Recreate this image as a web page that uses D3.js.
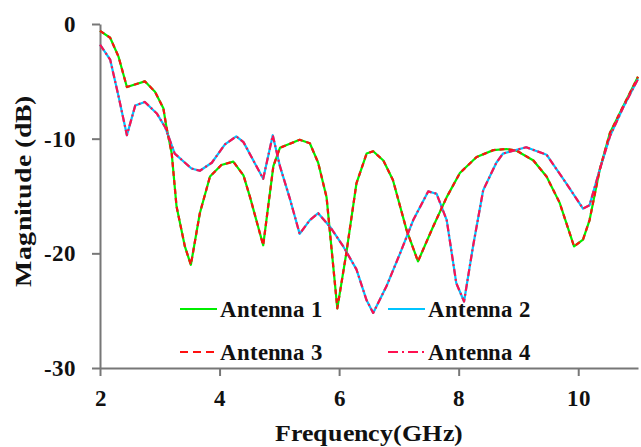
<!DOCTYPE html>
<html>
<head>
<meta charset="utf-8">
<script src="https://cdn.jsdelivr.net/npm/d3@7"></script>
<style>
  @font-face { font-family: "RefSerif"; font-weight: bold;
    src: local("Liberation Serif Bold"), local("LiberationSerif-Bold"), local("Times New Roman Bold"), local("DejaVu Serif Bold"), local("DejaVuSerif-Bold"); }
  html, body { margin: 0; padding: 0; background: #fff; }
  svg { display: block; }
  svg text { font-family: "RefSerif", "Liberation Serif", "Times New Roman", serif; font-weight: bold; fill: #111; }
</style>
</head>
<body>
<svg id="chart" width="641" height="447"></svg>
<script>
// ---- data ----
const freqA = [2.0, 2.17, 2.31, 2.45, 2.75, 2.92, 3.06, 3.11, 3.2, 3.28, 3.42, 3.52, 3.67, 3.84, 4.03, 4.23, 4.4, 4.51, 4.73, 4.9, 5.01, 5.34, 5.51, 5.65, 5.79, 5.97, 6.12, 6.29, 6.46, 6.57, 6.74, 6.9, 7.13, 7.32, 7.57, 7.8, 8.02, 8.3, 8.58, 8.8, 8.97, 9.25, 9.47, 9.69, 9.93, 10.08, 10.19, 10.36, 10.53, 10.75, 11.0];
const antenna1 = [-0.6, -1.2, -2.85, -5.5, -5.0, -5.9, -7.35, -8.95, -11.3, -15.9, -19.4, -21.0, -16.5, -13.3, -12.3, -12.0, -13.2, -15.1, -19.3, -12.4, -10.8, -10.1, -10.4, -12.1, -15.1, -24.8, -20.0, -13.9, -11.3, -11.1, -11.9, -13.6, -18.0, -20.7, -17.7, -15.1, -13.0, -11.6, -11.0, -10.9, -11.05, -11.9, -13.3, -15.6, -19.4, -18.8, -17.1, -12.7, -9.5, -7.2, -4.6];
const antenna3 = [-0.6, -1.2, -2.85, -5.5, -5.0, -5.9, -7.35, -8.95, -11.3, -15.9, -19.4, -21.0, -16.5, -13.3, -12.3, -12.0, -13.2, -15.1, -19.3, -12.4, -10.8, -10.1, -10.4, -12.1, -15.1, -24.8, -20.0, -13.9, -11.3, -11.1, -11.9, -13.6, -18.0, -20.7, -17.7, -15.1, -13.0, -11.6, -11.0, -10.9, -11.05, -11.9, -13.3, -15.6, -19.4, -18.8, -17.1, -12.7, -9.5, -7.2, -4.6];

const freqB = [2.0, 2.17, 2.31, 2.45, 2.59, 2.75, 2.95, 3.09, 3.25, 3.53, 3.67, 3.87, 4.09, 4.28, 4.4, 4.73, 4.89, 5.01, 5.18, 5.34, 5.51, 5.65, 5.85, 6.07, 6.29, 6.46, 6.57, 6.79, 7.02, 7.24, 7.49, 7.63, 7.8, 7.96, 8.09, 8.24, 8.41, 8.63, 8.74, 9.13, 9.47, 9.8, 10.08, 10.19, 10.36, 10.53, 10.75, 11.0];
const antenna2 = [-1.8, -3.1, -6.3, -9.7, -7.1, -6.8, -7.8, -9.0, -11.3, -12.6, -12.8, -12.1, -10.5, -9.8, -10.3, -13.5, -9.7, -12.4, -15.3, -18.3, -17.1, -16.5, -17.7, -19.4, -21.4, -24.1, -25.2, -22.9, -20.0, -17.1, -14.6, -14.8, -17.1, -22.6, -24.2, -19.4, -14.5, -12.1, -11.3, -10.75, -11.4, -13.9, -16.1, -15.8, -12.7, -9.8, -7.3, -4.8];
const antenna4 = [-1.8, -3.1, -6.3, -9.7, -7.1, -6.8, -7.8, -9.0, -11.3, -12.6, -12.8, -12.1, -10.5, -9.8, -10.3, -13.5, -9.7, -12.4, -15.3, -18.3, -17.1, -16.5, -17.7, -19.4, -21.4, -24.1, -25.2, -22.9, -20.0, -17.1, -14.6, -14.8, -17.1, -22.6, -24.2, -19.4, -14.5, -12.1, -11.3, -10.75, -11.4, -13.9, -16.1, -15.8, -12.7, -9.8, -7.3, -4.8];

const xTicks = [2, 4, 6, 8, 10];
const yTicks = [0, -10, -20, -30];
const seriesNames = ["Antenna 1", "Antenna 2", "Antenna 3", "Antenna 4"];

// ---- layout ----
const FONT = "RefSerif, 'Liberation Serif', 'Times New Roman', serif";
const svg = d3.select("#chart");
const x = d3.scaleLinear().domain([2, 11]).range([100, 638]);
const y = d3.scaleLinear().domain([-30, 0]).range([368, 24]);
const axisColor = "#777";

// axes
const yAxis = svg.append("g").attr("transform", "translate(100,0)")
  .call(d3.axisLeft(y).tickValues(yTicks).tickSize(8).tickPadding(16).tickFormat(d3.format("d")).tickSizeOuter(0));
const xAxis = svg.append("g").attr("transform", "translate(0,368)")
  .call(d3.axisBottom(x).tickValues(xTicks).tickSize(8).tickPadding(14).tickFormat(d3.format("d")).tickSizeOuter(0));
[xAxis, yAxis].forEach(g => {
  g.attr("font-family", FONT);
  g.select(".domain").attr("stroke", axisColor).attr("stroke-width", 2);
  g.selectAll(".tick line").attr("stroke", axisColor).attr("stroke-width", 2);
  g.selectAll(".tick text").attr("font-size", 23).attr("fill", "#111")
    .attr("font-family", FONT).attr("font-weight", "bold");
});
yAxis.selectAll(".tick text").text(d => d === 0 ? "0" : "-" + Math.abs(d));

// axis titles
svg.append("text").attr("x", 369).attr("y", 441).attr("text-anchor", "middle")
  .attr("font-family", FONT).attr("font-size", 23).attr("textLength", 188).attr("lengthAdjust", "spacingAndGlyphs")
  .text("Frequency(GHz)");
svg.append("text").attr("transform", "translate(31,191) rotate(-90)").attr("text-anchor", "middle")
  .attr("font-family", FONT).attr("font-size", 23).attr("textLength", 192).attr("lengthAdjust", "spacingAndGlyphs")
  .text("Magnitude (dB)");

// lines
const line = (fx) => d3.line().x((d, i) => x(fx[i])).y(d => y(d));
const styles = [
  { data: antenna1, f: freqA, color: "#00ee00", dash: null },
  { data: antenna2, f: freqB, color: "#00c4ff", dash: null },
  { data: antenna3, f: freqA, color: "#ff1010", dash: "5,4" },
  { data: antenna4, f: freqB, color: "#ff1050", dash: "7,3,2,3" }
];
styles.forEach(s => {
  svg.append("path").datum(s.data)
    .attr("d", line(s.f))
    .attr("fill", "none").attr("stroke", s.color).attr("stroke-width", 2.2)
    .attr("stroke-linejoin", "round")
    .attr("stroke-dasharray", s.dash);
});

// legend
const legendPos = [
  { lx: 180, ly: 309 }, { lx: 388, ly: 309 },
  { lx: 180, ly: 352 }, { lx: 388, ly: 352 }
];
const legendDash = [null, null, "8,5", "10,4,2,4"];
seriesNames.forEach((name, i) => {
  const p = legendPos[i];
  svg.append("line").attr("x1", p.lx).attr("x2", p.lx + 37).attr("y1", p.ly).attr("y2", p.ly)
    .attr("stroke", styles[i].color).attr("stroke-width", 2)
    .attr("stroke-dasharray", legendDash[i]);
  svg.append("text").attr("x", p.lx + 40).attr("y", p.ly + 8)
    .attr("font-family", FONT).attr("font-size", 23).attr("textLength", 103).attr("lengthAdjust", "spacingAndGlyphs")
    .text(name);
});
</script>
</body>
</html>
